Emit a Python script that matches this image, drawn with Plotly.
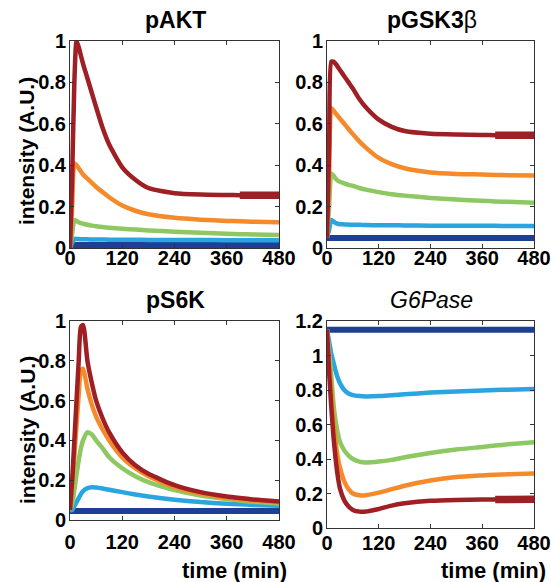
import plotly.graph_objects as go

# ---------------- data ----------------
TIME = [0, 5, 10, 15, 20, 25, 30, 40, 50, 60, 75, 90, 120, 150, 180, 240, 300, 360, 390, 420, 480]
X_TICKS = [0, 120, 240, 360, 480]

PANEL_TITLES = ["<b>pAKT</b>", "<b>pGSK3</b>β", "<b>pS6K</b>", "<i>G6Pase</i>"]

# pAKT
AKT_DARKBLUE = [0.015] * 21
AKT_LIGHTBLUE = [0, 0.025, 0.044, 0.043, 0.043, 0.042, 0.042, 0.042, 0.041, 0.041, 0.041, 0.040, 0.040,
                 0.040, 0.039, 0.039, 0.039, 0.038, 0.038, 0.038, 0.038]
AKT_GREEN = [0, 0.07, 0.135, 0.13, 0.124, 0.12, 0.117, 0.112, 0.108, 0.105, 0.101, 0.098, 0.093,
             0.089, 0.085, 0.079, 0.074, 0.069, 0.067, 0.065, 0.063]
AKT_ORANGE = [0, 0.2, 0.41, 0.40, 0.385, 0.37, 0.355, 0.335, 0.315, 0.295, 0.27, 0.245, 0.205,
              0.18, 0.163, 0.146, 0.137, 0.131, 0.129, 0.127, 0.125]
AKT_RED = [0, 0.35, 0.8, 1.0, 0.97, 0.93, 0.89, 0.82, 0.75, 0.68, 0.58, 0.50, 0.39,
           0.33, 0.29, 0.265, 0.258, 0.256, 0.255, 0.255, 0.255]

# pGSK3beta
GSK_DARKBLUE = [0.048] * 21
GSK_LIGHTBLUE = [0.05, 0.09, 0.135, 0.128, 0.121, 0.117, 0.115, 0.114, 0.113, 0.112, 0.112, 0.111, 0.11,
                 0.11, 0.109, 0.108, 0.108, 0.107, 0.107, 0.106, 0.106]
GSK_GREEN = [0.05, 0.2, 0.36, 0.35, 0.335, 0.325, 0.32, 0.312, 0.305, 0.3, 0.29, 0.282, 0.27,
             0.26, 0.253, 0.242, 0.234, 0.228, 0.225, 0.223, 0.219]
GSK_ORANGE = [0.05, 0.35, 0.675, 0.665, 0.65, 0.638, 0.625, 0.6, 0.575, 0.55, 0.515, 0.485, 0.435,
              0.405, 0.385, 0.365, 0.358, 0.355, 0.353, 0.352, 0.35]
GSK_RED = [0.05, 0.5, 0.9, 0.9, 0.89, 0.875, 0.86, 0.83, 0.8, 0.77, 0.72, 0.68, 0.62,
           0.585, 0.565, 0.552, 0.548, 0.546, 0.545, 0.545, 0.545]

# pS6K
S6K_DARKBLUE = [0.045] * 21
S6K_LIGHTBLUE = [0.05, 0.05, 0.07, 0.09, 0.11, 0.13, 0.145, 0.16, 0.165, 0.163, 0.158, 0.152, 0.14,
                 0.128, 0.118, 0.102, 0.09, 0.082, 0.079, 0.076, 0.072]
S6K_GREEN = [0.05, 0.08, 0.15, 0.23, 0.3, 0.36, 0.4, 0.44, 0.43, 0.4, 0.36, 0.315, 0.26,
             0.22, 0.19, 0.15, 0.123, 0.105, 0.098, 0.092, 0.083]
S6K_ORANGE = [0.05, 0.17, 0.32, 0.48, 0.63, 0.75, 0.76, 0.66, 0.58, 0.52, 0.455, 0.4, 0.315,
              0.26, 0.22, 0.165, 0.133, 0.112, 0.105, 0.098, 0.088]
S6K_RED = [0.05, 0.2, 0.4, 0.6, 0.8, 0.97, 0.98, 0.8, 0.69, 0.6, 0.51, 0.44, 0.34,
           0.275, 0.232, 0.175, 0.14, 0.118, 0.11, 0.103, 0.093]

# G6Pase
G6P_DARKBLUE = [1.15] * 21
G6P_LIGHTBLUE = [1.15, 1.08, 1.01, 0.96, 0.91, 0.87, 0.84, 0.80, 0.78, 0.77, 0.765, 0.763, 0.765,
                 0.77, 0.775, 0.785, 0.792, 0.797, 0.8, 0.802, 0.806]
G6P_GREEN = [1.15, 1.02, 0.88, 0.72, 0.62, 0.55, 0.50, 0.45, 0.42, 0.40, 0.385, 0.38, 0.385,
             0.395, 0.41, 0.435, 0.455, 0.47, 0.478, 0.485, 0.497]
G6P_ORANGE = [1.15, 0.95, 0.78, 0.62, 0.5, 0.41, 0.35, 0.27, 0.225, 0.2, 0.19, 0.19, 0.205,
              0.225, 0.245, 0.275, 0.295, 0.305, 0.309, 0.312, 0.316]
G6P_RED = [1.15, 0.9, 0.7, 0.53, 0.4, 0.3, 0.23, 0.16, 0.125, 0.105, 0.095, 0.095, 0.11,
           0.13, 0.143, 0.158, 0.163, 0.165, 0.165, 0.166, 0.166]

Y_RANGES = [[0, 1], [0, 1], [0, 1], [0, 1.2]]
THICK_FROM = 390  # red line drawn thicker from here on (pAKT, pGSK3b, G6Pase)

# ---------------- style ----------------
W, H = 551, 582
FONT = "Liberation Sans, Arial, sans-serif"
C_DB, C_LB, C_GR, C_OR, C_RD = "#1E3F96", "#2AA5DF", "#8DC862", "#F58A2B", "#9E1F24"
AXCOL = "#333333"

# panel boxes in pixels: (left, right, top, bottom)
BOXES = [(70, 279, 41, 248), (327, 534, 41, 248), (70, 279, 321, 520), (327, 534, 321, 528)]
X_STANDOFF = [-8, -8, 4, -3]

def px(x):
    return x / W

def py(y):
    return 1 - y / H

panels = [
    (AKT_DARKBLUE, AKT_LIGHTBLUE, AKT_GREEN, AKT_ORANGE, AKT_RED, True),
    (GSK_DARKBLUE, GSK_LIGHTBLUE, GSK_GREEN, GSK_ORANGE, GSK_RED, True),
    (S6K_DARKBLUE, S6K_LIGHTBLUE, S6K_GREEN, S6K_ORANGE, S6K_RED, False),
    (G6P_DARKBLUE, G6P_LIGHTBLUE, G6P_GREEN, G6P_ORANGE, G6P_RED, True),
]

fig = go.Figure()
layout = dict(
    template="none",
    width=W, height=H, margin=dict(l=0, r=0, t=0, b=0, pad=0), autosize=False,
    paper_bgcolor="white", plot_bgcolor="white", showlegend=False,
    font=dict(family=FONT, color="black"),
)
annotations = []

for i, (db, lb, gr, orr, rd, thick) in enumerate(panels):
    n = i + 1
    xa = "x" if n == 1 else f"x{n}"
    ya = "y" if n == 1 else f"y{n}"
    series = [(db, C_DB, 6), (lb, C_LB, 4.5), (gr, C_GR, 4.5), (orr, C_OR, 4.5), (rd, C_RD, 4.5)]
    for vals, col, w in series:
        fig.add_trace(go.Scatter(x=TIME, y=vals, mode="lines", xaxis=xa, yaxis=ya,
                                 line=dict(color=col, width=w, shape="spline", smoothing=0.6),
                                 hoverinfo="skip"))
    if thick:
        idx = [k for k, t in enumerate(TIME) if t >= THICK_FROM]
        fig.add_trace(go.Scatter(x=[TIME[k] for k in idx], y=[rd[k] for k in idx], mode="lines",
                                 xaxis=xa, yaxis=ya, line=dict(color=C_RD, width=7.5),
                                 hoverinfo="skip"))
    l, r, t, b = BOXES[i]
    axcommon = dict(showline=True, linecolor=AXCOL, linewidth=1, mirror="ticks",
                    ticks="inside", ticklen=4, tickcolor=AXCOL, showgrid=False, zeroline=False,
                    automargin=False,
                    tickfont=dict(family=FONT, size=20, color="black", weight="bold"))
    layout["xaxis" if n == 1 else f"xaxis{n}"] = dict(
        domain=[px(l), px(r)], range=[0, 480], tickvals=X_TICKS, anchor=ya,
        ticklabelstandoff=X_STANDOFF[i], **axcommon)
    layout["yaxis" if n == 1 else f"yaxis{n}"] = dict(
        domain=[py(b), py(t)], range=Y_RANGES[i], dtick=0.2, anchor=xa,
        ticklabelstandoff=-1, **axcommon)

    # panel title
    annotations.append(dict(text=PANEL_TITLES[i], x=px((l + r) / 2 + 1), y=py(t - 21),
                            xref="paper", yref="paper", showarrow=False,
                            xanchor="center", yanchor="middle",
                            font=dict(family=FONT, size=23, color="black")))

# y axis titles (left column)
for yc in (151, 430):
    annotations.append(dict(text="<b>intensity (A.U.)</b>", x=px(27), y=py(yc), xref="paper", yref="paper",
                            showarrow=False, textangle=-90, xanchor="center", yanchor="middle",
                            font=dict(family=FONT, size=21, color="black")))
# x axis titles (bottom row)
for xr in (289, 548):
    annotations.append(dict(text="<b>time (min)</b>", x=px(xr), y=py(570), xref="paper", yref="paper",
                            showarrow=False, xanchor="right", yanchor="middle",
                            font=dict(family=FONT, size=22, color="black")))

layout["annotations"] = annotations
fig.update_layout(**layout)
fig.write_html(
    "out.html",
    config={"displayModeBar": False, "staticPlot": True},
    post_script="document.body.style.margin='0';document.body.style.overflow='hidden';",
)
